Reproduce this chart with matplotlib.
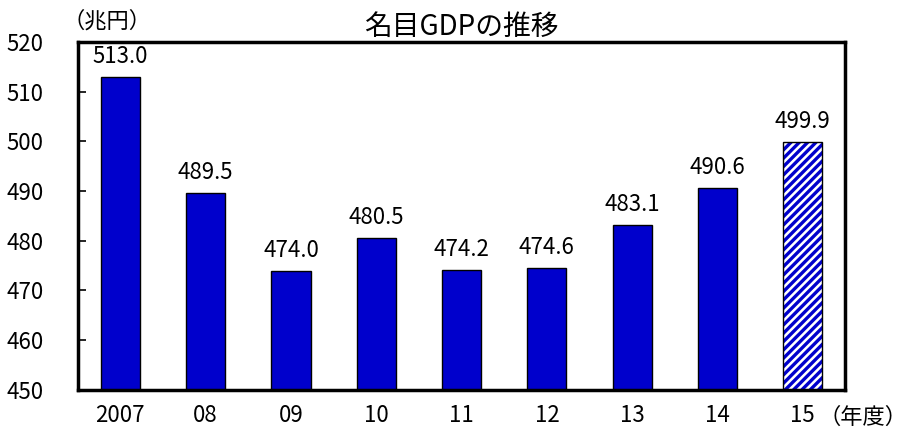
import matplotlib.pyplot as plt

plt.rcParams['font.family'] = ['Noto Sans CJK JP', 'DejaVu Sans']

# 名目GDP（兆円）
years = ['2007', '08', '09', '10', '11', '12', '13', '14', '15']
gdp = [513.0, 489.5, 474.0, 480.5, 474.2, 474.6, 483.1, 490.6, 499.9]
labels = ['513.0', '489.5', '474.0', '480.5', '474.2', '474.6', '483.1', '490.6', '499.9']

fig = plt.figure(figsize=(9.14, 4.40), dpi=100)
ax = fig.add_axes([0.085, 0.114, 0.84, 0.791])

blue = '#0000cc'
x = list(range(len(years)))
base = 450
heights = [v - base for v in gdp]

# 実績は塗りつぶし、最後の年度は斜線
ax.bar(x[:-1], heights[:-1], bottom=base, width=0.46, color=blue,
       edgecolor='black', linewidth=1.0, zorder=2)
plt.rcParams['hatch.linewidth'] = 2.4
ax.bar(x[-1:], heights[-1:], bottom=base, width=0.46, color='white',
       edgecolor=blue, hatch='////', linewidth=0, zorder=2)
ax.bar(x[-1:], heights[-1:], bottom=base, width=0.46, fill=False,
       edgecolor='black', linewidth=1.0, zorder=3)

for xi, v, t in zip(x, gdp, labels):
    ax.text(xi, v + 1.8, t, ha='center', va='bottom', fontsize=16)

ax.set_xlim(-0.5, 8.5)
ax.set_ylim(450, 520)
ax.set_yticks(range(450, 521, 10))
ax.set_xticks(x)
ax.set_xticklabels(years)
ax.tick_params(axis='y', direction='in', length=6, width=1.2, labelsize=16, pad=51)
ax.tick_params(axis='x', length=0, labelsize=16, pad=10)
for lbl in ax.get_yticklabels():
    lbl.set_horizontalalignment('left')

for s in ax.spines.values():
    s.set_linewidth(2.5)

ax.set_title('名目GDPの推移', fontsize=20, pad=0)
fig.text(0.068, 0.953, '（兆円）', fontsize=16, va='center')
fig.text(0.993, 0.052, '（年度）', fontsize=16, va='center', ha='right')

fig.savefig('out.png', dpi=100)
